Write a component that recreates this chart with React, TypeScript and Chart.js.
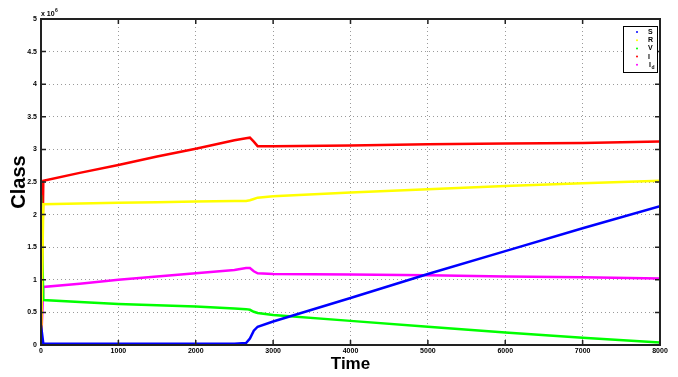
import React, { useEffect, useRef } from "react";
import { Chart, registerables } from "chart.js";

Chart.register(...registerables);

const times = [0, 30, 500, 1000, 1500, 2000, 2500, 2650, 2700, 2750, 2800, 3000, 4000, 5000, 6000, 7000, 8000];
const seriesS = [0.3, 0.02, 0.02, 0.02, 0.02, 0.02, 0.02, 0.03, 0.1, 0.22, 0.28, 0.36, 0.72, 1.09, 1.44, 1.79, 2.13];
const seriesR = [0, 2.16, 2.17, 2.18, 2.19, 2.2, 2.21, 2.21, 2.22, 2.24, 2.26, 2.28, 2.34, 2.39, 2.44, 2.48, 2.52];
const seriesV = [2.3, 0.69, 0.66, 0.63, 0.61, 0.59, 0.56, 0.55, 0.54, 0.51, 0.49, 0.46, 0.37, 0.28, 0.19, 0.11, 0.04];
const seriesI = [0, 2.52, 2.64, 2.76, 2.89, 3.01, 3.14, 3.17, 3.18, 3.12, 3.05, 3.05, 3.06, 3.08, 3.09, 3.1, 3.12];
const seriesId = [0, 0.89, 0.94, 1.0, 1.05, 1.1, 1.15, 1.18, 1.18, 1.13, 1.1, 1.09, 1.08, 1.07, 1.05, 1.04, 1.02];

const legendLabels = ["S", "R", "V", "I", "Id"];
const seriesColors = ["#0000ff", "#ffff00", "#00ff00", "#ff0000", "#ff00ff"];
const allSeries = [seriesS, seriesR, seriesV, seriesI, seriesId];

const xTitle = "Time";
const yTitle = "Class";
const exponentBase = "x 10";
const exponentPower = "6";

const FONT = "Arial, 'Liberation Sans', sans-serif";

const framePlugin = {
  id: "matlabFrame",
  afterDraw(chart: any) {
    const { ctx, chartArea } = chart;
    const { left, right, top, bottom } = chartArea;
    const xs = chart.scales.x;
    const ys = chart.scales.y;
    ctx.save();
    ctx.strokeStyle = "#222";
    ctx.lineWidth = 1.5;
    ctx.beginPath();
    xs.ticks.forEach((t: any) => {
      const px = xs.getPixelForValue(t.value);
      ctx.moveTo(px, bottom);
      ctx.lineTo(px, bottom - 5);
      ctx.moveTo(px, top);
      ctx.lineTo(px, top + 5);
    });
    ys.ticks.forEach((t: any) => {
      const py = ys.getPixelForValue(t.value);
      ctx.moveTo(left, py);
      ctx.lineTo(left + 5, py);
      ctx.moveTo(right, py);
      ctx.lineTo(right - 5, py);
    });
    ctx.stroke();
    ctx.lineWidth = 2;
    ctx.strokeRect(left, top, right - left, bottom - top);

    ctx.fillStyle = "#000";
    ctx.font = "bold 7px " + FONT;
    ctx.textBaseline = "alphabetic";
    ctx.textAlign = "left";
    ctx.fillText(exponentBase, left, top - 3);
    const w = ctx.measureText(exponentBase).width;
    ctx.font = "bold 5px " + FONT;
    ctx.fillText(exponentPower, left + w + 0.5, top - 7);

    const lx = 623, ly = 26, lw = 34, lh = 46;
    ctx.fillStyle = "#fff";
    ctx.fillRect(lx, ly, lw, lh);
    ctx.strokeStyle = "#000";
    ctx.lineWidth = 1;
    ctx.strokeRect(lx + 0.5, ly + 0.5, lw, lh);
    legendLabels.forEach((lab, i) => {
      const yy = ly + 6 + i * 8.2;
      ctx.fillStyle = seriesColors[i];
      ctx.beginPath();
      ctx.arc(lx + 14, yy, 1, 0, Math.PI * 2);
      ctx.fill();
      ctx.fillStyle = "#000";
      ctx.font = "bold 7px " + FONT;
      ctx.textBaseline = "middle";
      ctx.textAlign = "left";
      if (lab === "Id") {
        ctx.fillText("I", lx + 26, yy);
        ctx.font = "bold 5px " + FONT;
        ctx.fillText("d", lx + 28.5, yy + 3);
      } else {
        ctx.fillText(lab, lx + 25, yy);
      }
    });
    ctx.restore();
  },
};

export default function App() {
  const ref = useRef<HTMLCanvasElement | null>(null);
  useEffect(() => {
    if (!ref.current) return;
    const datasets = allSeries.map((arr, i) => ({
      label: legendLabels[i],
      data: times.map((t, j) => ({ x: t, y: arr[j] })),
      borderColor: seriesColors[i],
      backgroundColor: seriesColors[i],
      borderWidth: 2.5,
      pointRadius: 0,
      tension: 0,
      fill: false,
    }));
    const tickFont = { family: FONT, size: 7, weight: "bold" as const };
    const chart = new Chart(ref.current, {
      type: "line",
      data: { datasets },
      plugins: [framePlugin],
      options: {
        animation: false,
        responsive: false,
        layout: { padding: { left: 0, top: 19, right: 18, bottom: 0 } },
        plugins: { legend: { display: false }, tooltip: { enabled: false } },
        scales: {
          x: {
            type: "linear",
            min: 0,
            max: 8000,
            ticks: {
              stepSize: 1000,
              color: "#000",
              font: tickFont,
              padding: 2,
              maxRotation: 0,
              callback: (v: any) => String(v),
            },
            grid: { color: "#9a9a9a", lineWidth: 1, drawTicks: false },
            border: { display: false, dash: [1, 3] },
            title: {
              display: true,
              text: xTitle,
              color: "#000",
              font: { family: FONT, size: 17, weight: "bold" },
              padding: { top: 0, bottom: 2 },
            },
            afterFit(scale: any) {
              scale.height = 32;
            },
          },
          y: {
            type: "linear",
            min: 0,
            max: 5,
            ticks: {
              stepSize: 0.5,
              color: "#000",
              font: tickFont,
              padding: 4,
              callback: (v: any) => String(Math.round(Number(v) * 10) / 10),
            },
            grid: { color: "#9a9a9a", lineWidth: 1, drawTicks: false },
            border: { display: false, dash: [1, 3] },
            title: {
              display: true,
              text: yTitle,
              color: "#000",
              font: { family: FONT, size: 20, weight: "bold" },
              padding: { top: 7, bottom: 0 },
            },
            afterFit(scale: any) {
              scale.width = 41;
            },
          },
        },
      },
    });
    return () => chart.destroy();
  }, []);
  return (
    <div style={{ position: "fixed", left: 0, top: 0, width: 678, height: 377, background: "#fff" }}>
      <canvas ref={ref} width={678} height={377} style={{ width: 678, height: 377, display: "block" }} />
    </div>
  );
}
